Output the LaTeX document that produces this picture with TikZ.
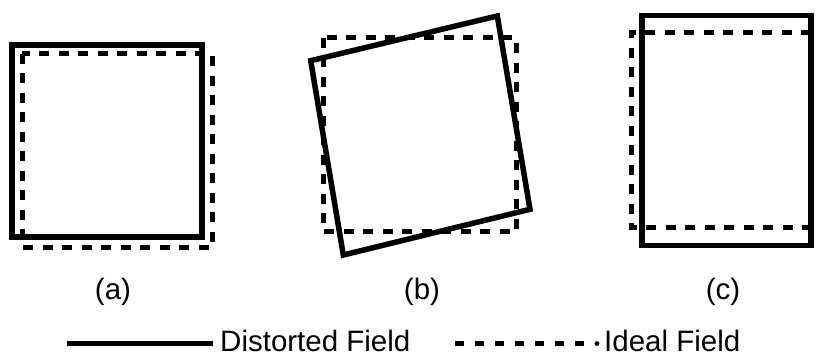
\documentclass[tikz,border=0pt]{standalone}
\usepackage{fontspec}
\setmainfont{Liberation Sans}
\usetikzlibrary{positioning}

\begin{document}
\begin{tikzpicture}[
    x=1pt, y=-1pt,
    distorted/.style={line width=5.5pt, line join=miter},
    ideal/.style={line width=5pt, dash pattern=on 10pt off 9.5pt},
    legsolid/.style={line width=5pt},
    legdash/.style={line width=4.5pt, dash pattern=on 9pt off 11pt},
    caption/.style={inner sep=0pt, font=\fontsize{29.5}{34}\selectfont},
    legtext/.style={inner sep=0pt, anchor=base west, font=\fontsize{29.5}{34}\selectfont}
]
    \useasboundingbox (0,0) rectangle (817,358);

    % (a) shifted field
    \draw[distorted] (12,45) rectangle (202,237);
    \draw[ideal] (22,54) rectangle (212,248);

    % (b) rotated field
    \draw[ideal] (323,38) rectangle (516,232);
    \draw[distorted] (310.7,60.7) -- (497.3,16) -- (530,209.3) -- (343.3,255) -- cycle;

    % (c) stretched field
    \draw[ideal] (811,33) -- (631,33) -- (631,228) -- (811,228);
    \draw[distorted] (642,15.5) rectangle (811,245.5);

    % captions
    \node[caption] (capa) at (113,292) {(a)};
    \node[caption] (capb) at (422,292) {(b)};
    \node[caption] (capc) at (723,292) {(c)};

    % legend
    \node[legtext] (distlabel) at (220,351) {Distorted Field};
    \coordinate (solidstart) at (67,343.5);
    \coordinate (solidend) at (213,343.5);
    \draw[legsolid] (solidstart) -- (solidend);
    \node[legtext] (ideallabel) at (604,351) {Ideal Field};
    \coordinate (dashstart) at (455,343.5);
    \coordinate (dashend) at (588,343.5);
    \draw[legdash] (dashstart) -- (dashend);
    \fill (597,343.5) circle (2.4pt);
\end{tikzpicture}
\end{document}
